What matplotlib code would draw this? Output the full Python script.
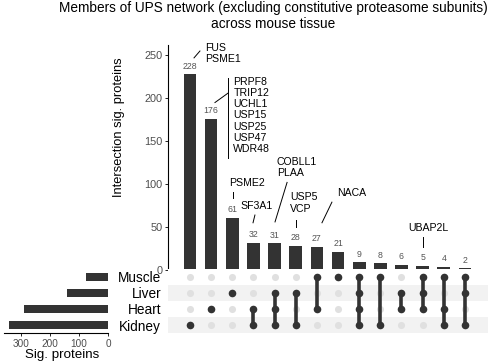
import matplotlib
matplotlib.use("Agg")
import matplotlib.pyplot as plt

plt.rcParams['font.family'] = ['Liberation Sans', 'DejaVu Sans']

# data
tissues = ["Muscle", "Liver", "Heart", "Kidney"]
set_sizes = [76, 142, 290, 342]
counts = [228, 176, 61, 32, 31, 28, 27, 21, 9, 8, 6, 5, 4, 2]
members = [
    ["Kidney"], ["Heart"], ["Liver"], ["Heart", "Kidney"],
    ["Liver", "Heart", "Kidney"], ["Liver", "Kidney"], ["Muscle", "Heart"],
    ["Muscle"], ["Muscle", "Liver", "Heart", "Kidney"], ["Muscle", "Kidney"],
    ["Liver", "Heart"], ["Muscle", "Liver", "Heart"],
    ["Muscle", "Heart", "Kidney"], ["Muscle", "Liver", "Kidney"],
]
genes = {
    0: "FUS\nPSME1",
    1: "PRPF8\nTRIP12\nUCHL1\nUSP15\nUSP25\nUSP47\nWDR48",
    2: "PSME2",
    3: "SF3A1",
    4: "COBLL1\nPLAA",
    5: "USP5\nVCP",
    6: "NACA",
    11: "UBAP2L",
}

# label layout: text (dx, y, ha) and leader segment (dx0, y0, dx1, y1) relative to column
label_pos = {
    0: (0.71, 252, 'left', [(0.19, 247, 0.47, 255)]),
    1: (1.05, 180, 'left', [(0.18, 195, 0.80, 206), (0.80, 223, 0.80, 131)]),
    2: (0.70, 101, 'center', [(0.03, 91, 0.03, 84)]),
    3: (0.14, 75, 'center', [(-0.02, 55, 0.07, 64)]),
    4: (0.11, 119, 'left', [(0.02, 56, 0.59, 102)]),
    5: (-0.27, 78, 'left', [(0.01, 58, 0.01, 50)]),
    6: (0.95, 90, 'left', [(0.24, 55, 0.71, 79)]),
    11: (0.25, 49, 'center', [(0.02, 38, 0.02, 27)]),
}

W, H = 492, 364
fig = plt.figure(figsize=(W / 100, H / 100), dpi=100)


def px_axes(l, t, r, b):
    return fig.add_axes([l / W, 1 - b / H, (r - l) / W, (b - t) / H])


dark = '#333333'
xs = list(range(len(counts)))
xlim = (-1.04, 14.09)

# intersection bars
ax = px_axes(168, 45, 488, 270)
ax.bar(xs, counts, width=0.6, color=dark)
ax.set_xlim(*xlim)
ax.set_ylim(0, 262)
ax.set_yticks([0, 50, 100, 150, 200, 250])
ax.tick_params(axis='y', labelsize=7.8, labelcolor='#4D4D4D', length=2.5, width=0.6, pad=1.5)
ax.set_xticks([])
for s in ['top', 'right', 'bottom']:
    ax.spines[s].set_visible(False)
ax.spines['left'].set_linewidth(0.8)
ax.set_ylabel("Intersection sig. proteins", fontsize=9.3)
ax.yaxis.set_label_coords(-0.135, 0.636)
for x, c in zip(xs, counts):
    ax.annotate(str(c), (x, c), xytext=(0, 2.5), textcoords='offset points',
                ha='center', va='bottom', fontsize=6.3, color='#555555')
for i, txt in genes.items():
    dx, ty, ha, segs = label_pos[i]
    ax.text(i + dx, ty, txt, ha=ha, va='center', fontsize=7.6, linespacing=1.15)
    for x0, y0, x1, y1 in segs:
        ax.plot([i + x0, i + x1], [y0, y1], color='black', lw=0.7, clip_on=False)

# matrix
axm = px_axes(168, 269, 488, 333)
axm.set_xlim(*xlim)
axm.set_ylim(-0.5, 3.5)
rows = {t: 3 - k for k, t in enumerate(tissues)}
for t in ["Liver", "Kidney"]:
    axm.axhspan(rows[t] - 0.5, rows[t] + 0.5, color='#F2F2F2', lw=0, zorder=0)
for x, m in zip(xs, members):
    axm.scatter([x] * 4, list(rows.values()), s=26, color='#E0E0E0', lw=0, zorder=1)
    ys = [rows[t] for t in m]
    if len(ys) > 1:
        axm.plot([x, x], [min(ys), max(ys)], color=dark, lw=2.6, zorder=2)
    axm.scatter([x] * len(ys), ys, s=30, color=dark, lw=0, zorder=3)
axm.set_yticks([rows[t] for t in tissues])
axm.set_yticklabels(tissues, fontsize=9.8)
axm.tick_params(axis='y', length=0, pad=5)
axm.set_xticks([])
for s in axm.spines.values():
    s.set_visible(False)

# set size bars
axs = px_axes(4, 269, 108, 333)
axs.barh([rows[t] for t in tissues], set_sizes, height=0.47, color=dark)
axs.set_xlim(358, 0)
axs.set_ylim(-0.5, 3.5)
axs.set_xticks([300, 200, 100, 0])
axs.set_yticks([])
axs.tick_params(axis='x', labelsize=7.2, labelcolor='#4D4D4D', length=2.5, width=0.6, pad=1.5)
for s in ['top', 'right', 'left']:
    axs.spines[s].set_visible(False)
axs.spines['bottom'].set_linewidth(0.8)
axs.set_xlabel("Sig. proteins", fontsize=9.6)
axs.xaxis.set_label_coords(0.56, -0.255)

fig.text(273 / W, 1 - 1 / H,
         "Members of UPS network (excluding constitutive proteasome subunits)\nacross mouse tissue",
         ha='center', va='top', fontsize=9.8, linespacing=1.2)

fig.savefig("out.png", dpi=100)
